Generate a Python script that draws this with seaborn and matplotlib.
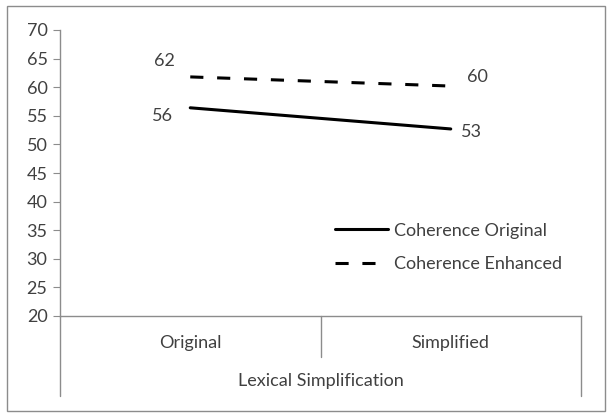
import numpy as np
import pandas as pd
import matplotlib.pyplot as plt
import matplotlib
import seaborn as sns

# values
categories = ["Original", "Simplified"]
series_names = ["Coherence Original", "Coherence Enhanced"]
coh_original = [56.4, 52.7]
coh_enhanced = [61.8, 60.2]
label_original = ["56", "53"]
label_enhanced = ["62", "60"]

df = pd.DataFrame({
    "cat": categories * 2,
    "val": coh_original + coh_enhanced,
    "series": [series_names[0]] * 2 + [series_names[1]] * 2,
})

sns.set_style("white")
plt.rcParams['font.family'] = ['Lato', 'DejaVu Sans']
txt = "#404040"
gray = "#8c8c8c"
fs = 13

fig = plt.figure(figsize=(6.09, 4.18), dpi=100)
ax = fig.add_axes([60/609, 1-316/418, 521/609, 286/418])

sns.lineplot(data=df, x="cat", y="val", style="series", color="black",
             dashes={series_names[0]: "", series_names[1]: (4.3, 4.5)},
             linewidth=2.2, ax=ax, sort=False)

ax.set_xlim(-0.5, 1.5)
ax.set_ylim(20, 70)
ax.set_yticks(np.arange(20, 71, 5))
ax.tick_params(axis='y', left=True, length=5, color=gray, labelsize=fs, labelcolor=txt, pad=4)
ax.tick_params(axis='x', bottom=False, labelsize=fs, labelcolor=txt, pad=10)
for s in ["top", "right"]:
    ax.spines[s].set_visible(False)
for s in ["left", "bottom"]:
    ax.spines[s].set_color(gray)
    ax.spines[s].set_linewidth(1)
ax.set_xlabel("Lexical Simplification", fontsize=fs, color=txt, labelpad=16)
ax.set_ylabel("")

# grouped category box under the axis
ax.plot([0.5, 0.5], [0, -0.143], transform=ax.transAxes, color=gray, lw=1, clip_on=False)
ax.plot([0, 0], [0, -0.28], transform=ax.transAxes, color=gray, lw=1, clip_on=False)
ax.plot([1, 1], [0, -0.28], transform=ax.transAxes, color=gray, lw=1, clip_on=False)

# data labels
offs_o = [(-28, -8), (21, -3)]
offs_e = [(-26, 16), (27, 9)]
for i in range(2):
    ax.annotate(label_original[i], (i, coh_original[i]), xytext=offs_o[i],
                textcoords='offset pixels', ha='center', va='center', fontsize=fs, color=txt)
    ax.annotate(label_enhanced[i], (i, coh_enhanced[i]), xytext=offs_e[i],
                textcoords='offset pixels', ha='center', va='center', fontsize=fs, color=txt)

leg = ax.legend(loc='center left', bbox_to_anchor=(0.496, 0.24), frameon=False,
                fontsize=fs, handlelength=2.95, labelspacing=0.95, handletextpad=0.35)
for t in leg.get_texts():
    t.set_color(txt)

# outer frame
fig.patches.append(matplotlib.patches.Rectangle((6.6/609, 1-411/418), 598/609, 405/418,
                   transform=fig.transFigure, fill=False, edgecolor=gray, lw=1))

plt.savefig("out.png", dpi=100)
